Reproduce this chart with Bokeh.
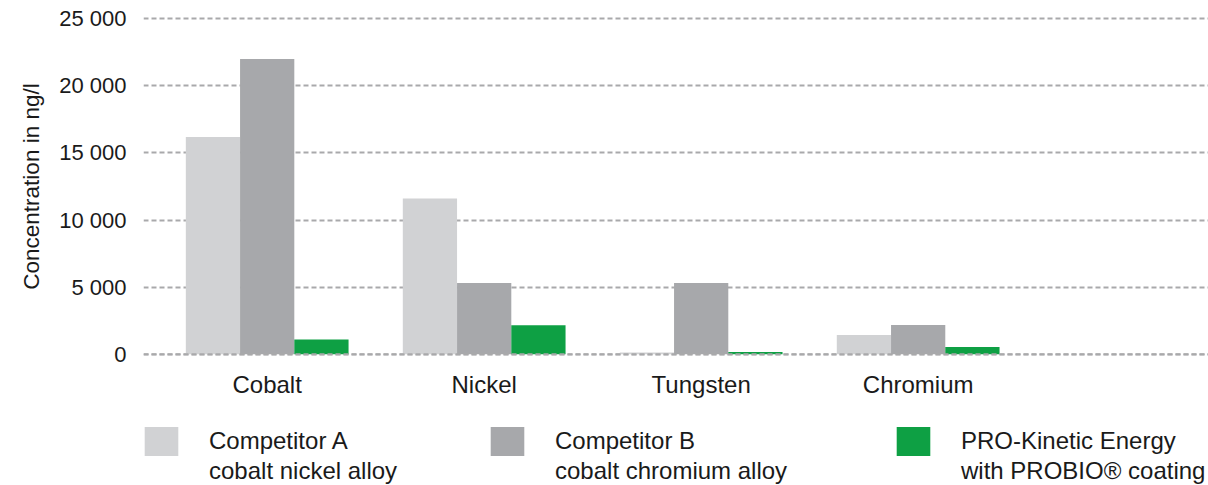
import numpy as np
from bokeh.plotting import figure
from bokeh.layouts import column
from bokeh.models import (Range1d, FixedTicker, Span, Legend, LegendItem,
                          ColumnDataSource, Title)
from bokeh.core.properties import value
from bokeh.embed import file_html
from bokeh.resources import INLINE

# ---- data ----
categories = ["Cobalt", "Nickel", "Tungsten", "Chromium"]
series_names = [
    "Competitor A\ncobalt nickel alloy",
    "Competitor B\ncobalt chromium alloy",
    "PRO-Kinetic Energy\nwith PROBIO® coating",
]
competitor_a = [16200, 11600, 130, 1430]
competitor_b = [22000, 5300, 5300, 2170]
pro_kinetic = [1100, 2150, 150, 540]
y_ticks = [0, 5000, 10000, 15000, 20000, 25000]
y_title = "Concentration in ng/l"

# ---- style ----
colors = ["#d1d2d4", "#a7a8ab", "#0ea044"]
FONT = "Liberation Sans"
TXT = "#1a1a1a"
grid_color = "#a9a9ab"
bar_w = 0.25
offsets = [-0.25, 0.0, 0.25]

p = figure(
    width=1208, height=400,
    output_backend="svg", toolbar_location=None,
    x_range=Range1d(-0.57, 4.338),
    y_range=Range1d(-400, 25400),
    min_border_left=143, min_border_right=0,
    min_border_top=13, min_border_bottom=39,
)
p.outline_line_color = None
p.background_fill_color = "white"
p.border_fill_color = "white"

idx = np.arange(len(categories))
for vals, off, col in zip([competitor_a, competitor_b, pro_kinetic], offsets, colors):
    src = ColumnDataSource(dict(x=idx + off, top=vals))
    p.vbar(x="x", top="top", bottom=0, width=bar_w, source=src,
           fill_color=col, line_color=None)

# zero line drawn over bars
zero = Span(location=0, dimension="width", line_color=grid_color,
            line_width=2, line_dash="5 3", level="overlay")
p.add_layout(zero)

# grid
p.xgrid.grid_line_color = None
p.ygrid.grid_line_color = grid_color
p.ygrid.grid_line_width = 2
p.ygrid.grid_line_dash = "5 3"
p.ygrid.ticker = FixedTicker(ticks=y_ticks)

# x axis
p.xaxis.ticker = FixedTicker(ticks=list(idx))
p.xaxis.major_label_overrides = {int(i): c for i, c in zip(idx, categories)}
p.xaxis.axis_line_color = None
p.xaxis.major_tick_line_color = None
p.xaxis.minor_tick_line_color = None
p.xaxis.major_tick_out = 0
p.xaxis.major_label_standoff = 11
p.xaxis.major_label_text_font = FONT
p.xaxis.major_label_text_font_size = "24px"
p.xaxis.major_label_text_color = TXT

# y axis
p.yaxis.ticker = FixedTicker(ticks=y_ticks)
p.yaxis.major_label_overrides = {t: f"{t:,}".replace(",", " ") for t in y_ticks}
p.yaxis.axis_line_color = None
p.yaxis.major_tick_line_color = None
p.yaxis.minor_tick_line_color = None
p.yaxis.major_tick_out = 0
p.yaxis.major_label_standoff = 17
p.yaxis.major_label_text_font = FONT
p.yaxis.major_label_text_font_size = "22px"
p.yaxis.major_label_text_color = TXT

ytitle = Title(text=y_title, align="center", offset=0, standoff=26,
               text_font=FONT, text_font_size="22.5px", text_font_style="normal",
               text_color=TXT)
p.add_layout(ytitle, "left")

# ---- legend strip below the chart (frame aligned with the chart's frame) ----
STRIP_H = 85
lg = figure(
    width=1208, height=STRIP_H,
    output_backend="svg", toolbar_location=None,
    x_range=Range1d(0, 1), y_range=Range1d(0, 1),
    x_axis_location=None, y_axis_location=None,
    min_border_left=0, min_border_right=0,
    min_border_top=0, min_border_bottom=0,
)
lg.outline_line_color = None
lg.xgrid.grid_line_color = None
lg.ygrid.grid_line_color = None

legend_x = [-3, 343, 749]          # left edge of each legend entry, px from frame left
common = dict(orientation="vertical", padding=0, margin=0, spacing=0,
              border_line_color=None, background_fill_alpha=0,
              label_text_font=FONT, label_text_font_size="24px",
              label_text_color=TXT, label_standoff=27, glyph_width=42)

blank = lg.vbar(x="x", top="top", bottom="bottom", width=0.1,
                source=ColumnDataSource(dict(x=[-5], top=[-5], bottom=[-6])),
                fill_alpha=0, line_alpha=0)
for name, col, lx in zip(series_names, colors, legend_x):
    first, second = name.split("\n")
    sw = lg.vbar(x="x", top="top", bottom="bottom", width=0.1,
                 source=ColumnDataSource(dict(x=[-5], top=[-5], bottom=[-6])),
                 fill_color=col, line_color=None)
    l1 = Legend(items=[LegendItem(label=value(first), renderers=[sw], index=0)],
                location=(lx, 26), glyph_height=36, label_height=36, **common)
    l2 = Legend(items=[LegendItem(label=value(second), renderers=[blank], index=0)],
                location=(lx, 0), glyph_height=28, label_height=28, **common)
    lg.add_layout(l1, "center")
    lg.add_layout(l2, "center")

layout = column(p, lg, spacing=0)
open("out.html", "w").write(file_html(layout, INLINE))
